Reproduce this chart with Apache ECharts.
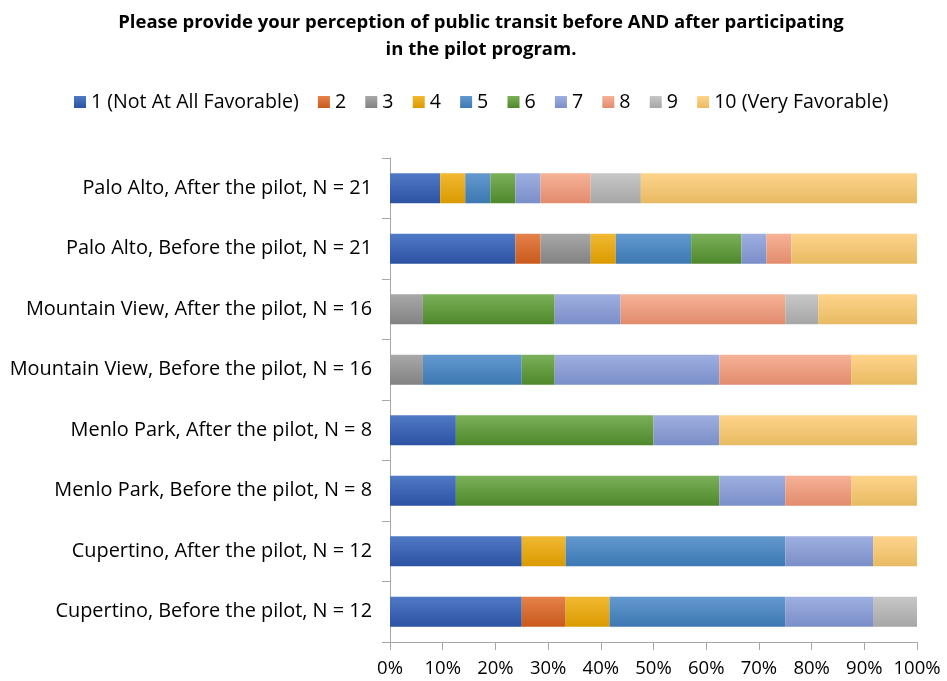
<!DOCTYPE html>
<html>
<head>
<meta charset="utf-8">
<script src="https://cdn.jsdelivr.net/npm/echarts@6/dist/echarts.min.js"></script>
<style>html,body{margin:0;padding:0;background:#fff}#c{width:947px;height:681px}</style>
</head>
<body>
<div id="c"></div>
<script>
const categories = [
  'Palo Alto, After the pilot, N = 21',
  'Palo Alto, Before the pilot, N = 21',
  'Mountain View, After the pilot, N = 16',
  'Mountain View, Before the pilot, N = 16',
  'Menlo Park, After the pilot, N = 8',
  'Menlo Park, Before the pilot, N = 8',
  'Cupertino, After the pilot, N = 12',
  'Cupertino, Before the pilot, N = 12'
];
const seriesNames = ['1 (Not At All Favorable)', '2', '3', '4', '5', '6', '7', '8', '9', '10 (Very Favorable)'];
const r1  = [9.52, 23.81, 0, 0, 12.5, 12.5, 25, 25];
const r2  = [0, 4.76, 0, 0, 0, 0, 0, 8.33];
const r3  = [0, 9.52, 6.25, 6.25, 0, 0, 0, 0];
const r4  = [4.76, 4.76, 0, 0, 0, 0, 8.33, 8.33];
const r5  = [4.76, 14.29, 0, 18.75, 0, 0, 41.67, 33.33];
const r6  = [4.76, 9.52, 25, 6.25, 37.5, 50, 0, 0];
const r7  = [4.76, 4.76, 12.5, 31.25, 12.5, 12.5, 16.67, 16.67];
const r8  = [9.52, 4.76, 31.25, 25, 0, 12.5, 0, 0];
const r9  = [9.52, 0, 6.25, 0, 0, 0, 0, 8.34];
const r10 = [52.4, 23.81, 18.75, 12.5, 37.5, 12.5, 8.33, 0];
const xTicks = [0, 10, 20, 30, 40, 50, 60, 70, 80, 90, 100];

const allValues = [r1, r2, r3, r4, r5, r6, r7, r8, r9, r10];
const gradTops = ['#5079c6', '#e5824a', '#a8a8a8', '#f1b932', '#6399cf', '#7bb05a', '#9eafe0', '#f6b297', '#c7c7c7', '#fed48b'];
const gradBottoms = ['#2c52a2', '#c9591b', '#828282', '#da9a00', '#3d78b2', '#4e882b', '#7a8ec8', '#e28b6d', '#a6a6a6', '#e8ba62'];

const FONT = 'Open Sans';
const series = seriesNames.map((name, i) => ({
  name: name,
  type: 'bar',
  stack: 'total',
  barWidth: 30,
  data: allValues[i],
  itemStyle: {
    color: new echarts.graphic.LinearGradient(0, 0, 0, 1, [
      { offset: 0, color: gradTops[i] },
      { offset: 1, color: gradBottoms[i] }
    ])
  },
  emphasis: { disabled: true }
}));

const chart = echarts.init(document.getElementById('c'));
chart.setOption({
  animation: false,
  textStyle: { fontFamily: FONT },
  title: {
    text: 'Please provide your perception of public transit before AND after participating\nin the pilot program.',
    left: 476,
    top: 4,
    textAlign: 'center',
    textStyle: { fontFamily: FONT, fontWeight: 'bold', fontSize: 18.5, lineHeight: 27, color: '#000' }
  },
  legend: {
    data: seriesNames,
    left: 69,
    top: 87,
    itemWidth: 12,
    itemHeight: 12,
    itemGap: 19.2,
    icon: 'rect',
    textStyle: { fontFamily: FONT, fontSize: 19.6, color: '#000' }
  },
  grid: { left: 390, right: 30, top: 158, bottom: 39, containLabel: false },
  xAxis: {
    type: 'value',
    min: 0,
    max: 100,
    interval: 10,
    axisLine: { show: true, lineStyle: { color: '#a6a6a6', width: 1 } },
    axisTick: { show: true, length: 8, lineStyle: { color: '#a6a6a6' } },
    splitLine: { show: false },
    axisLabel: { formatter: v => xTicks.includes(v) ? v + '%' : '', fontSize: 18.5, color: '#000', margin: 17, fontFamily: FONT }
  },
  yAxis: {
    type: 'category',
    data: categories,
    inverse: true,
    axisLine: { show: true, lineStyle: { color: '#a6a6a6', width: 1 } },
    axisTick: { show: true, length: 8, lineStyle: { color: '#a6a6a6' } },
    axisLabel: { fontSize: 19.9, color: '#000', margin: 18, fontFamily: FONT }
  },
  series: series
});
</script>
</body>
</html>
